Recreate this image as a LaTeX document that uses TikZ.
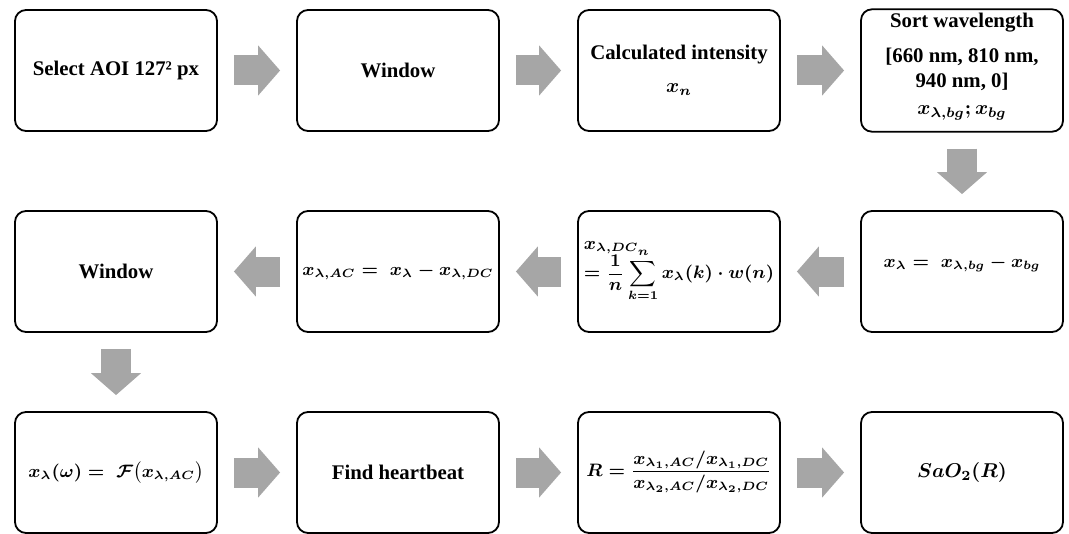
\documentclass[tikz,border=0pt]{standalone}
\usepackage{fontspec}
\setmainfont{Liberation Serif}
\usepackage{amsmath,bm}
\usetikzlibrary{arrows.meta}

\begin{document}
\begin{tikzpicture}[x=0.5pt,y=-0.5pt,
  box/.style={draw,line width=0.9pt,rounded corners=5.5pt,minimum width=101pt,minimum height=60.5pt,
    align=center,inner sep=2pt,font=\fontsize{10.4}{12.5}\selectfont\bfseries\boldmath},
  mathbox/.style={box,font=\fontsize{9.2}{11}\selectfont\bfseries\boldmath},
  flow/.style={draw=black!35,line width=15pt,shorten <=8pt,shorten >=8pt,
    -{Triangle[length=11pt,width=24.5pt]}}]
\useasboundingbox (0,0) rectangle (1069,534);

% first row
\node[box] (sel) at (116,70.5) {Select AOI 127² px};
\node[box] (win) at (398,70.5) {Window};
\node[box] (intens) at (679,70.5) {Calculated intensity\\[4pt] $x_n$};
\node[box] (sortwl) at (962,70.5) {Sort wavelength\\[5pt]{[}660 nm, 810 nm,\\940 nm, 0]\\[1pt]$x_{\lambda,bg};x_{bg}$\\[-6pt]};

% second row
\node[mathbox] (sub) at (962,271.5) {$x_\lambda=\;x_{\lambda,bg}-x_{bg}$\\[-1pt]};
\node[mathbox,font=\fontsize{9}{11}\selectfont\bfseries\boldmath,align=left,inner sep=1pt] (dc) at (679,271.5) {$x_{\lambda,DC}$\\[-3.5pt]$\displaystyle=\frac{1}{n}\sum_{k=1}^{n}x_\lambda(k)\cdot w(n)$};
\node[mathbox] (ac) at (398,271.5) {$x_{\lambda,AC}=\;x_\lambda-x_{\lambda,DC}$};
\node[box] (win2) at (116,271.5) {Window};

% third row
\node[mathbox] (fft) at (116,472.5) {$x_\lambda(\omega)=\;\mathcal{F}\bigl(x_{\lambda,AC}\bigr)$};
\node[box] (hb) at (398,472.5) {Find heartbeat};
\node[mathbox] (ratio) at (679,472.5) {$R=\dfrac{x_{\lambda_1,AC}/x_{\lambda_1,DC}}{x_{\lambda_2,AC}/x_{\lambda_2,DC}}$\\[-2pt]};
\node[box] (sao) at (962,472.5) {$SaO_2(R)$};

\draw[flow] (sel) -- (win);
\draw[flow] (win) -- (intens);
\draw[flow] (intens) -- (sortwl);
\draw[flow] (sortwl) -- (sub);
\draw[flow] (sub) -- (dc);
\draw[flow] (dc) -- (ac);
\draw[flow] (ac) -- (win2);
\draw[flow] (win2) -- (fft);
\draw[flow] (fft) -- (hb);
\draw[flow] (hb) -- (ratio);
\draw[flow] (ratio) -- (sao);
\end{tikzpicture}
\end{document}
